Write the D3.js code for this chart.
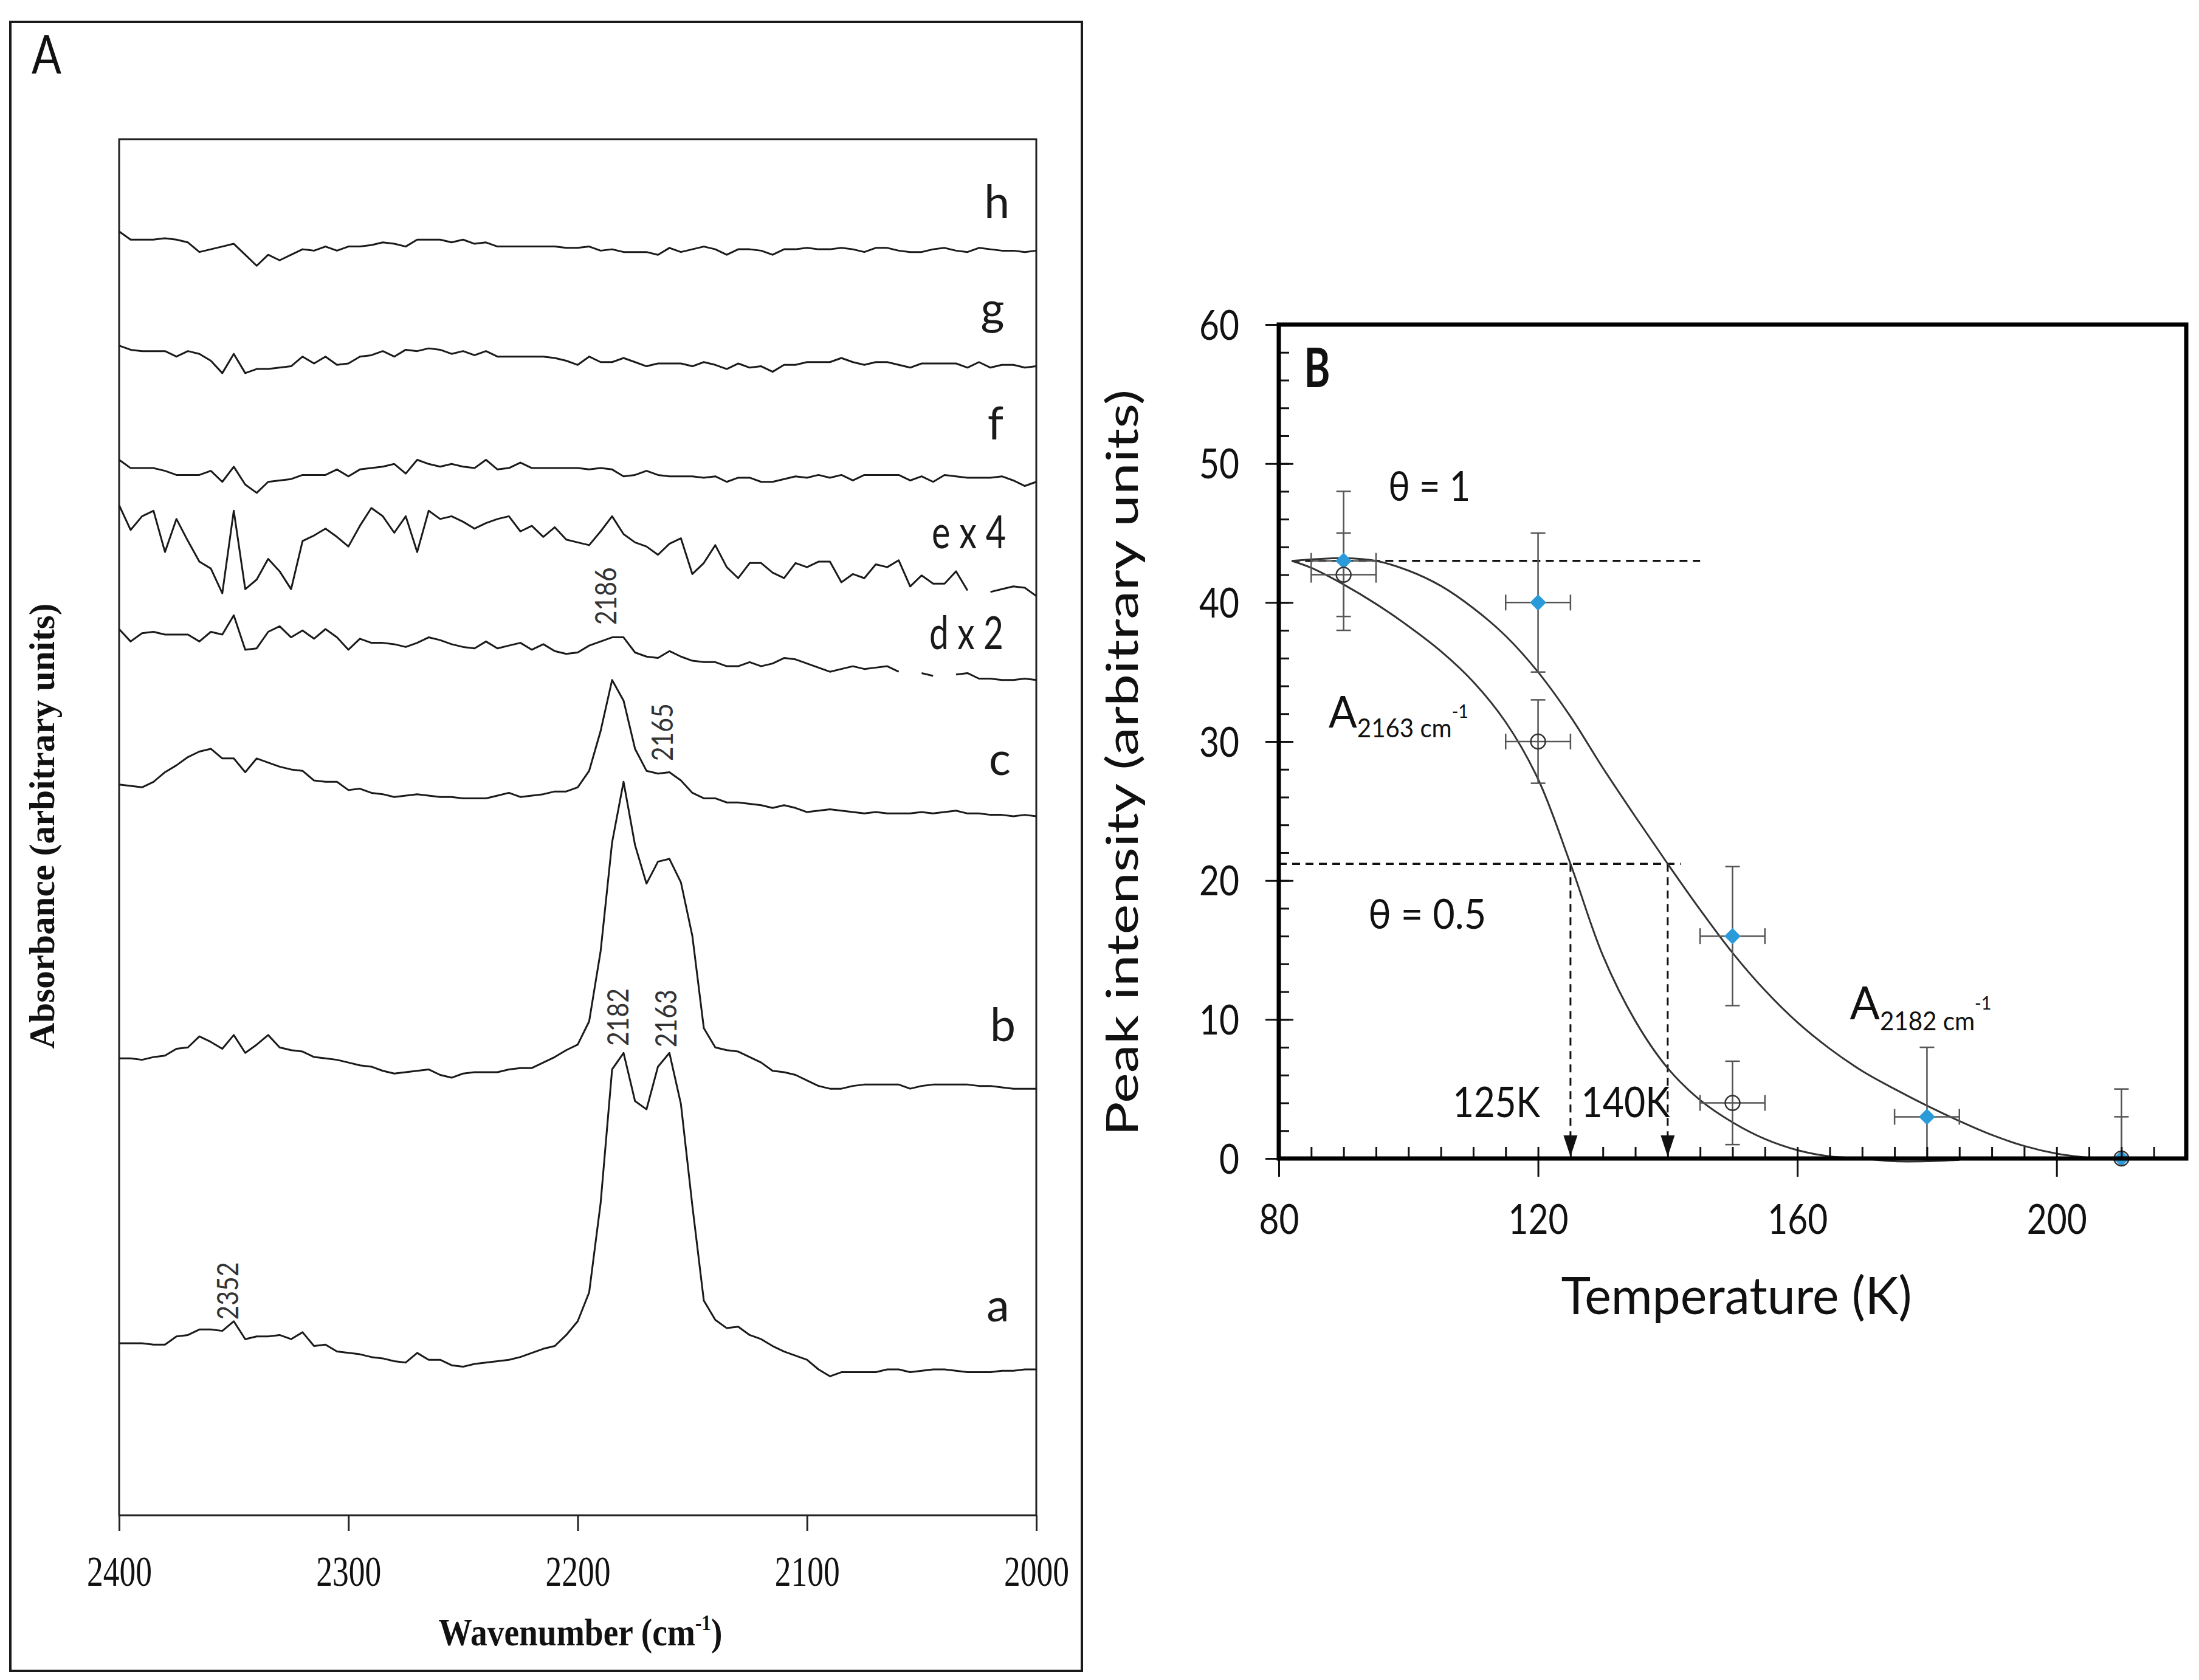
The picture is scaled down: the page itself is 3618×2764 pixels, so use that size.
<!DOCTYPE html>
<html>
<head>
<meta charset="utf-8">
<script src="https://cdn.jsdelivr.net/npm/d3@7"></script>
<style>
  body { margin: 0; background: #fff; }
</style>
</head>
<body>
<div id="chart"></div>
<script>
// ---------- Panel A data: IR spectra, 5 cm-1 grid from 2400 down to 2000 ----------
const wavenumbers = d3.range(2400, 1999, -5);
const spectrumNames = ['a', 'b', 'c', 'd', 'e', 'f', 'g', 'h'];
const spectrumLabels = ['a', 'b', 'c', 'd x 2', 'e x 4', 'f', 'g', 'h'];
// vertical offsets of each trace (arbitrary units)
const spectrumOffsets = [125, 330, 530, 640, 720, 760, 840, 920];

const spectrumA = [0,0,0,-1,-1,5,6,10,10,9, 16,3,5,5,6,3,8,-2,-1,-6, -7,-8,-10,-11,-13,-14,-7,-12,-12,-16,
  -17,-15,-14,-13,-12,-10,-7,-4,-2,6, 16,37,102,199,211,176,170,201,211,174, 100,31,17,11,12,6,3,-2,-6,-9,
  -12,-19,-24,-21,-21,-21,-21,-19,-19,-21, -20,-19,-19,-20,-21,-21,-21,-20,-20,-19, -19];
const spectrumB = [2,2,1,3,4,9,10,18,14,9, 19,6,12,19,10,8,7,3,2,1, -1,-3,-4,-7,-9,-8,-7,-6,-10,-12,
  -9,-8,-8,-8,-6,-5,-5,-1,3,8, 12,29,80,159,203,157,129,145,147,130, 91,24,10,8,7,3,-1,-7,-8,-10,
  -14,-18,-20,-20,-18,-17,-17,-17,-17,-20, -18,-17,-17,-17,-17,-18,-18,-19,-20,-20, -20];
const spectrumC = [1,0,-1,3,10,15,21,25,27,20, 20,10,20,17,14,12,11,4,3,3, -3,-2,-5,-6,-8,-7,-6,-7,-8,-8,
  -9,-9,-9,-7,-5,-8,-7,-6,-4,-4, -1,11,40,77,62,27,11,9,10,4, -5,-9,-9,-12,-12,-13,-14,-16,-14,-16,
  -19,-18,-17,-18,-19,-20,-19,-20,-20,-20, -19,-20,-19,-18,-20,-20,-21,-21,-22,-21, -22];
const spectrumD = [4,-5,1,2,0,0,0,-5,2,0, 14,-11,-10,2,6,-2,3,-3,4,-2, -11,-3,-6,-6,-7,-9,-6,-2,-4,-7,
  -9,-10,-5,-10,-8,-6,-11,-7,-12,-14, -13,-8,-5,-2,-2,-13,-16,-17,-12,-16, -19,-20,-20,-23,-23,-20,-23,-21,-17,-18,
  -21,-24,-27,-25,-23,-25,-24,-23,-27,null, -28,-30,null,-29,-28,-32,-32,-33,-33,-32, -33];
const spectrumE = [14,-4,6,10,-20,4,-12,-27,-32,-50, 10,-47,-40,-25,-34,-47,-12,-8,-3,-9, -16,-1,12,6,-6,6,-20,10,4,6,
  2,-3,1,4,6,-5,-1,-9,-2,-11, -13,-15,-5,6,-7,-13,-16,-22,-14,-10, -36,-28,-15,-31,-39,-28,-28,-35,-39,-28,
  -31,-27,-27,-42,-36,-39,-29,-31,-26,-45, -37,-43,-43,-34,-48,null,-49,-47,-45,-46, -52];
const spectrumF = [7,1,1,1,-1,-4,-4,-4,-1,-9, 2,-11,-17,-9,-8,-7,-4,-4,-4,0, -5,0,1,2,4,-3,7,4,2,4,
  2,1,7,0,1,5,1,1,1,1, 1,0,1,0,-5,-4,-1,-4,-5,-5, -5,-6,-5,-9,-6,-6,-9,-9,-7,-5,
  -6,-4,-6,-4,-8,-4,-4,-4,-4,-8, -5,-9,-4,-5,-6,-6,-6,-5,-8,-12, -9];
const spectrumG = [10,7,6,6,6,2,6,4,-1,-10, 4,-10,-7,-7,-6,-5,2,-3,2,-4, -3,2,3,6,2,7,6,8,7,4,
  6,3,6,2,2,2,2,2,1,-1, -4,2,-2,-2,1,-2,-5,-3,-3,-3, -5,-2,-4,-7,-3,-6,-5,-9,-4,-4,
  -2,-2,-2,1,-2,-4,-2,-2,-4,-6, -3,-3,-3,-3,-6,-2,-6,-4,-4,-6, -5];
const spectrumH = [13,7,7,7,8,7,5,-2,0,2, 4,-4,-12,-4,-8,-4,0,-1,2,-1, 2,2,3,5,4,2,7,7,7,5,
  7,4,5,2,2,2,2,2,2,1, 1,2,-1,0,-2,-2,-2,-4,1,-2, 0,2,0,-4,0,0,-1,-4,0,0,
  1,0,0,1,0,-2,1,1,-1,-2, -2,0,1,-1,-2,1,0,-1,-1,-2, -1];
const spectra = [spectrumA, spectrumB, spectrumC, spectrumD, spectrumE, spectrumF, spectrumG, spectrumH];

// label anchor for each trace (wavenumber, absorbance units)
const spectrumLabelWn = [2016.7, 2014.6, 2015.9, 2030.5, 2029.4, 2017.8, 2019.1, 2017.2];
const spectrumLabelAbs = [140.9, 344.5, 538.0, 629.4, 702.7, 781.8, 865.3, 942.6];

// peak annotations
const peakTexts = ['2186', '2165', '2182', '2163', '2352'];
const peakWn = [2187.7, 2163.0, 2182.4, 2161.4, 2352.6];
const peakAbs = [668, 569, 362, 361, 163];

const xTicksA = [2400, 2300, 2200, 2100, 2000];

// ---------- Panel B data: peak intensity vs temperature ----------
const tempsA2182 = [90, 120, 150, 180, 210];
const intensityA2182 = [43, 40, 16, 3, 0];
const errA2182 = [5, 5, 5, 5, 5];
const tempErrA2182 = [5, 5, 5, 5, 0];

const tempsA2163 = [90, 120, 150, 210];
const intensityA2163 = [42, 30, 4, 0];
const errA2163 = [3, 3, 3, 3];
const tempErrA2163 = [5, 5, 5, 0];

const fitTempsA2182 = [82, 90, 95, 100, 105, 110, 115, 120, 125, 130, 135, 140, 145, 150, 155, 160, 165, 170, 175, 180, 185, 190, 195, 200, 205];
const fitA2182 = [43.0, 43.2, 43.0, 42.3, 41.2, 39.6, 37.6, 35.0, 31.8, 28.1, 24.6, 21.2, 17.9, 14.8, 12.1, 9.8, 7.9, 6.3, 5.0, 3.8, 2.7, 1.7, 0.9, 0.35, 0.05];
const fitTempsA2163 = [82, 85, 90, 95, 100, 105, 110, 115, 120, 125, 130, 135, 140, 145, 150, 155, 160, 165, 170, 175, 180, 185];
const fitA2163 = [43.0, 42.5, 41.3, 39.9, 38.3, 36.5, 34.3, 31.4, 27.3, 21.2, 14.6, 9.9, 6.5, 4.2, 2.6, 1.4, 0.6, 0.15, 0.0, -0.2, -0.2, -0.1];

const thetaOne = 43;
const thetaHalf = 21.2;
const halfTemps = [125, 140];

const xTicksB = [80, 120, 160, 200];
const yTicksB = [0, 10, 20, 30, 40, 50, 60];

// ---------- setup ----------
const W = 3618, H = 2764;
const SANS = "Lato, 'Noto Sans', sans-serif";
const SERIF = "'Liberation Serif', 'DejaVu Serif', serif";
const BLUE = '#2a9ad8';

const svg = d3.select('#chart').append('svg')
    .attr('width', W)
    .attr('height', H)
    .style('background', '#fff');

// text placed through a transform; len squeezes it to the width seen in the picture
// parts: [{text, size, dy}] for sub/superscripts inside one text element
function addText(g, o) {
    const t = g.append('text')
        .attr('font-family', o.family || SANS)
        .attr('font-size', o.size)
        .attr('font-weight', o.weight || 'normal')
        .attr('fill', o.fill || '#111')
        .attr('text-anchor', o.anchor || 'start');
    if (o.parts) {
        o.parts.forEach(p => {
            t.append('tspan')
                .attr('font-size', p.size || o.size)
                .attr('dy', p.dy || 0)
                .text(p.text);
        });
    } else {
        t.text(o.text);
    }
    let sx = 1;
    if (o.len) sx = o.len / t.node().getComputedTextLength();
    t.attr('transform', `translate(${o.x},${o.y})${o.rotate ? ' rotate(-90)' : ''} scale(${sx},1)`);
    return t;
}

// ================= Panel A =================
const gA = svg.append('g');
const xA = d3.scaleLinear().domain([2400, 2000]).range([196, 1705]);
const yA = d3.scaleLinear().domain([0, 1000]).range([2493, 229]);

gA.append('rect')
    .attr('x', 17).attr('y', 36).attr('width', 1763).attr('height', 2713)
    .attr('fill', 'none').attr('stroke', '#1a1a1a').attr('stroke-width', 4);

gA.append('rect')
    .attr('x', xA(2400)).attr('y', yA(1000))
    .attr('width', xA(2000) - xA(2400)).attr('height', yA(0) - yA(1000))
    .attr('fill', 'none').attr('stroke', '#222').attr('stroke-width', 3);

const axA = gA.append('g')
    .attr('transform', `translate(0,${yA(0)})`)
    .call(d3.axisBottom(xA).tickValues(xTicksA).tickSize(26).tickFormat(d3.format('d')));
axA.select('.domain').remove();
axA.selectAll('.tick line').attr('stroke', '#222').attr('stroke-width', 3);
axA.selectAll('.tick text')
    .attr('font-family', SERIF).attr('font-size', 70).attr('fill', '#111')
    .attr('y', 116).attr('dy', null)
    .attr('textLength', 107).attr('lengthAdjust', 'spacingAndGlyphs');

// spectra
const lineA = d3.line()
    .defined(d => d.v !== null)
    .x(d => xA(d.wn))
    .y(d => yA(d.v));

spectra.forEach((s, k) => {
    const pts = wavenumbers.map((wn, i) => ({
        wn: wn,
        v: s[i] === null ? null : spectrumOffsets[k] + s[i]
    }));
    gA.append('path')
        .datum(pts)
        .attr('d', lineA)
        .attr('fill', 'none')
        .attr('stroke', '#1a1a1a')
        .attr('stroke-width', 3)
        .attr('stroke-linejoin', 'round');

    addText(gA, {
        text: spectrumLabels[k], x: xA(spectrumLabelWn[k]), y: yA(spectrumLabelAbs[k]),
        size: 75, anchor: 'middle', fill: '#1a1a1a',
        len: spectrumLabels[k].length > 1 ? 122 : null
    });
});

peakTexts.forEach((t, i) => {
    addText(gA, {
        text: t, x: xA(peakWn[i]) + 17, y: yA(peakAbs[i]),
        size: 48, anchor: 'middle', fill: '#333', len: 95, rotate: true
    });
});

addText(gA, { text: 'A', x: 52, y: 121, size: 88, len: 49, fill: '#111' });

// axis titles
addText(gA, {
    x: 955, y: 2707, size: 64, weight: 'bold', family: SERIF, anchor: 'middle', len: 467,
    parts: [
        { text: 'Wavenumber (cm' },
        { text: '-1', size: 36, dy: -25 },
        { text: ')', dy: 25 }
    ]
});

addText(gA, {
    text: 'Absorbance (arbitrary units)', x: 89, y: 1359, size: 60, weight: 'bold',
    family: SERIF, anchor: 'middle', len: 733, rotate: true
});

// ================= Panel B =================
const gB = svg.append('g');
const xB = d3.scaleLinear().domain([80, 220]).range([2104, 3597]);
const yB = d3.scaleLinear().domain([0, 60]).range([1906, 534]);

// dashed guide lines
const dash = '13,9';
gB.append('line')
    .attr('x1', xB(82)).attr('x2', xB(145))
    .attr('y1', yB(thetaOne)).attr('y2', yB(thetaOne))
    .attr('stroke', '#111').attr('stroke-width', 3.5).attr('stroke-dasharray', dash);
gB.append('line')
    .attr('x1', xB(80)).attr('x2', xB(142))
    .attr('y1', yB(thetaHalf)).attr('y2', yB(thetaHalf))
    .attr('stroke', '#111').attr('stroke-width', 3.5).attr('stroke-dasharray', dash);

halfTemps.forEach(t => {
    const x = xB(t), y0 = yB(0);
    gB.append('line')
        .attr('x1', x).attr('x2', x)
        .attr('y1', yB(thetaHalf)).attr('y2', y0 - 36)
        .attr('stroke', '#111').attr('stroke-width', 3).attr('stroke-dasharray', dash);
    gB.append('path')
        .attr('d', `M${x - 11.5},${y0 - 38}L${x + 11.5},${y0 - 38}L${x},${y0 - 3}Z`)
        .attr('fill', '#111');
});

// fitted curves
const fitLine = d3.line()
    .x(d => xB(d[0]))
    .y(d => yB(d[1]))
    .curve(d3.curveCatmullRom.alpha(0.5));

gB.append('path')
    .datum(fitTempsA2182.map((t, i) => [t, fitA2182[i]]))
    .attr('d', fitLine)
    .attr('fill', 'none').attr('stroke', '#333').attr('stroke-width', 3);
gB.append('path')
    .datum(fitTempsA2163.map((t, i) => [t, fitA2163[i]]))
    .attr('d', fitLine)
    .attr('fill', 'none').attr('stroke', '#333').attr('stroke-width', 3);

// error bars
function errorBars(temps, vals, errs, terrs) {
    const g = gB.append('g').attr('stroke', '#555').attr('stroke-width', 2.5);
    temps.forEach((t, i) => {
        const x = xB(t);
        const hi = vals[i] + errs[i];
        const lo = Math.max(0, vals[i] - errs[i]);
        g.append('line').attr('x1', x).attr('x2', x).attr('y1', yB(hi)).attr('y2', yB(lo));
        g.append('line').attr('x1', x - 12).attr('x2', x + 12).attr('y1', yB(hi)).attr('y2', yB(hi));
        if (vals[i] - errs[i] >= 0) {
            g.append('line').attr('x1', x - 12).attr('x2', x + 12).attr('y1', yB(lo)).attr('y2', yB(lo));
        }
        if (terrs[i] > 0) {
            const y = yB(vals[i]);
            const xl = xB(t - terrs[i]), xr = xB(t + terrs[i]);
            g.append('line').attr('x1', xl).attr('x2', xr).attr('y1', y).attr('y2', y);
            g.append('line').attr('x1', xl).attr('x2', xl).attr('y1', y - 13).attr('y2', y + 13);
            g.append('line').attr('x1', xr).attr('x2', xr).attr('y1', y - 13).attr('y2', y + 13);
        }
    });
}
errorBars(tempsA2182, intensityA2182, errA2182, tempErrA2182);
errorBars(tempsA2163, intensityA2163, errA2163, tempErrA2163);

// markers
const diamond = d3.symbol().type(d3.symbolSquare).size(360);
gB.append('g').selectAll('path')
    .data(tempsA2182.map((t, i) => [t, intensityA2182[i]]))
    .join('path')
    .attr('d', diamond)
    .attr('transform', d => `translate(${xB(d[0])},${yB(d[1])}) rotate(45)`)
    .attr('fill', BLUE);

gB.append('g').selectAll('circle')
    .data(tempsA2163.map((t, i) => [t, intensityA2163[i]]))
    .join('circle')
    .attr('cx', d => xB(d[0]))
    .attr('cy', d => yB(d[1]))
    .attr('r', 12)
    .attr('fill', 'none')
    .attr('stroke', '#333')
    .attr('stroke-width', 2.5);

// axes
const axYB = gB.append('g')
    .attr('transform', `translate(${xB(80)},0)`)
    .call(d3.axisLeft(yB).tickValues(yTicksB).tickSize(22));
axYB.select('.domain').remove();
axYB.selectAll('.tick line').attr('x1', 24).attr('stroke', '#111').attr('stroke-width', 3);
axYB.selectAll('.tick text')
    .attr('font-family', SANS).attr('font-size', 67).attr('fill', '#111')
    .attr('x', -65).attr('dy', '0.36em')
    .each(function (d) {
        d3.select(this).attr('textLength', String(d).length * 33).attr('lengthAdjust', 'spacingAndGlyphs');
    });

const axYBminor = gB.append('g')
    .attr('transform', `translate(${xB(80)},0)`)
    .call(d3.axisLeft(yB).tickValues(d3.range(2, 60, 2)).tickSize(-17).tickFormat(''));
axYBminor.select('.domain').remove();
axYBminor.selectAll('.tick line').attr('stroke', '#111').attr('stroke-width', 3);

const axXB = gB.append('g')
    .attr('transform', `translate(0,${yB(0)})`)
    .call(d3.axisBottom(xB).tickValues(xTicksB).tickSize(30));
axXB.select('.domain').remove();
axXB.selectAll('.tick line').attr('stroke', '#111').attr('stroke-width', 3);
axXB.selectAll('.tick text')
    .attr('font-family', SANS).attr('font-size', 67).attr('fill', '#111')
    .attr('y', 124).attr('dy', null)
    .each(function (d) {
        d3.select(this).attr('textLength', String(d).length * 33).attr('lengthAdjust', 'spacingAndGlyphs');
    });

const axXBminor = gB.append('g')
    .attr('transform', `translate(0,${yB(0)})`)
    .call(d3.axisBottom(xB).tickValues(d3.range(85, 220, 5)).tickSize(-19).tickFormat(''));
axXBminor.select('.domain').remove();
axXBminor.selectAll('.tick line').attr('stroke', '#111').attr('stroke-width', 3);

// plot frame (thick)
gB.append('rect')
    .attr('x', xB(80)).attr('y', yB(60))
    .attr('width', xB(220) - xB(80)).attr('height', yB(0) - yB(60))
    .attr('fill', 'none').attr('stroke', '#000').attr('stroke-width', 7);

// texts
addText(gB, { text: 'B', x: xB(83.9), y: yB(55.5), size: 89, weight: 'bold', len: 43 });
addText(gB, { text: 'θ = 1', x: xB(96.9), y: yB(47.3), size: 67, len: 135 });
addText(gB, { text: 'θ = 0.5', x: xB(93.8), y: yB(16.55), size: 67, len: 194 });
addText(gB, { text: '125K', x: xB(113.6), y: yB(2.96), size: 70, anchor: 'middle', len: 144 });
addText(gB, { text: '140K', x: xB(133.5), y: yB(2.96), size: 70, anchor: 'middle', len: 146 });

// A2163 cm-1 and A2182 cm-1
addText(gB, {
    x: xB(87.7), y: yB(31.0), size: 72, len: 230,
    parts: [
        { text: 'A' },
        { text: '2163 cm', size: 42, dy: 16 },
        { text: '-1', size: 30, dy: -32 }
    ]
});
addText(gB, {
    x: xB(168.1), y: yB(10.0), size: 76, len: 233,
    parts: [
        { text: 'A' },
        { text: '2182 cm', size: 42, dy: 18 },
        { text: '-1', size: 30, dy: -34 }
    ]
});

addText(gB, { text: 'Temperature (K)', x: 2857, y: 2162, size: 86, anchor: 'middle', len: 577 });
addText(gB, {
    text: 'Peak intensity (arbitrary units)', x: 1872, y: 1255, size: 72,
    anchor: 'middle', len: 1229, rotate: true
});
</script>
</body>
</html>
